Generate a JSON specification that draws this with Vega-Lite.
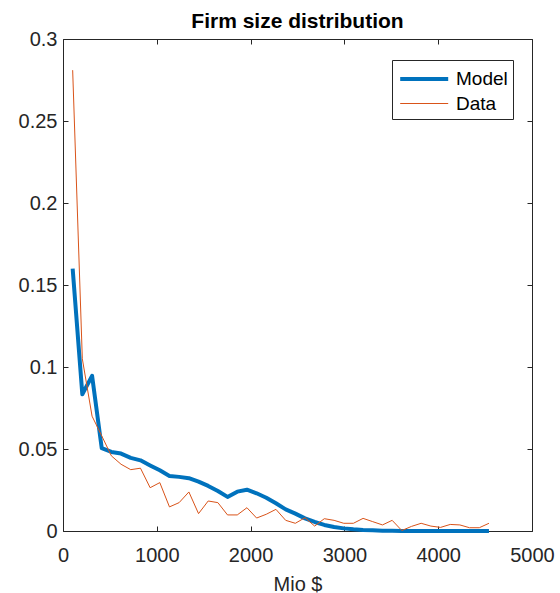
{
  "$schema": "https://vega.github.io/schema/vega-lite/v6.json",
  "autosize": "none",
  "width": 469,
  "height": 492,
  "padding": {"left": 63, "top": 39, "right": 28, "bottom": 62},
  "background": "white",
  "config": {
    "font": "Liberation Sans",
    "view": {"stroke": "#262626", "strokeWidth": 1},
    "axis": {
      "grid": false,
      "domain": false,
      "tickColor": "#262626",
      "tickSize": -5,
      "labelFlush": false,
      "labelOverlap": false,
      "labelFont": "Liberation Sans",
      "labelFontSize": 20,
      "labelColor": "#262626",
      "titleFont": "Liberation Sans",
      "titleFontSize": 20,
      "titleFontWeight": "normal",
      "titleColor": "#262626"
    }
  },
  "title": {
    "text": "Firm size distribution",
    "font": "Liberation Sans",
    "fontSize": 21,
    "fontWeight": "bold",
    "color": "#000000",
    "anchor": "middle",
    "offset": -3
  },
  "data": {
    "values": [
      {"x": 103, "Model": 0.160, "Data": 0.281},
      {"x": 206, "Model": 0.0834, "Data": 0.105},
      {"x": 310, "Model": 0.0946, "Data": 0.070},
      {"x": 413, "Model": 0.0505, "Data": 0.058},
      {"x": 516, "Model": 0.0482, "Data": 0.0458},
      {"x": 619, "Model": 0.0472, "Data": 0.0407},
      {"x": 722, "Model": 0.0446, "Data": 0.0374},
      {"x": 826, "Model": 0.0431, "Data": 0.0383},
      {"x": 929, "Model": 0.040, "Data": 0.0264},
      {"x": 1032, "Model": 0.037, "Data": 0.0295},
      {"x": 1135, "Model": 0.0336, "Data": 0.0147},
      {"x": 1238, "Model": 0.033, "Data": 0.0173},
      {"x": 1342, "Model": 0.0322, "Data": 0.0238},
      {"x": 1445, "Model": 0.0301, "Data": 0.0106},
      {"x": 1548, "Model": 0.0275, "Data": 0.0183},
      {"x": 1651, "Model": 0.0244, "Data": 0.0173},
      {"x": 1754, "Model": 0.0208, "Data": 0.0098},
      {"x": 1858, "Model": 0.024, "Data": 0.0098},
      {"x": 1961, "Model": 0.0252, "Data": 0.0142},
      {"x": 2064, "Model": 0.023, "Data": 0.0079},
      {"x": 2167, "Model": 0.0203, "Data": 0.0102},
      {"x": 2270, "Model": 0.0169, "Data": 0.0132},
      {"x": 2374, "Model": 0.0132, "Data": 0.0065},
      {"x": 2477, "Model": 0.0106, "Data": 0.0047},
      {"x": 2580, "Model": 0.0077, "Data": 0.0081},
      {"x": 2683, "Model": 0.0055, "Data": 0.003},
      {"x": 2786, "Model": 0.0037, "Data": 0.0075},
      {"x": 2890, "Model": 0.0024, "Data": 0.0065},
      {"x": 2993, "Model": 0.0016, "Data": 0.0047},
      {"x": 3096, "Model": 0.001, "Data": 0.0047},
      {"x": 3199, "Model": 0.0006, "Data": 0.0077},
      {"x": 3302, "Model": 0.0004, "Data": 0.0057},
      {"x": 3406, "Model": 0.0002, "Data": 0.0037},
      {"x": 3509, "Model": 0.0001, "Data": 0.0065},
      {"x": 3612, "Model": 0.0, "Data": 0.0003},
      {"x": 3715, "Model": 0.0, "Data": 0.0028},
      {"x": 3818, "Model": 0.0, "Data": 0.0047},
      {"x": 3922, "Model": 0.0, "Data": 0.003},
      {"x": 4025, "Model": 0.0, "Data": 0.0022},
      {"x": 4128, "Model": 0.0, "Data": 0.004},
      {"x": 4231, "Model": 0.0, "Data": 0.0037},
      {"x": 4334, "Model": 0.0, "Data": 0.002},
      {"x": 4438, "Model": 0.0, "Data": 0.002},
      {"x": 4541, "Model": 0.0, "Data": 0.0047}
    ]
  },
  "transform": [{"fold": ["Model", "Data"], "as": ["series", "value"]}],
  "resolve": {"axis": {"x": "independent", "y": "independent"}},
  "layer": [
    {
      "transform": [{"filter": "datum.series === 'Model'"}],
      "mark": {"type": "line", "strokeCap": "butt", "strokeJoin": "round"},
      "encoding": {
        "x": {"field": "x", "type": "quantitative",
          "scale": {"domain": [0, 5000], "nice": false},
          "axis": {"values": [0, 1000, 2000, 3000, 4000, 5000], "format": "d", "title": "Mio $", "labelPadding": 19, "titlePadding": 9, "orient": "bottom"}},
        "y": {"field": "value", "type": "quantitative",
          "scale": {"domain": [0, 0.3], "nice": false},
          "axis": {"values": [0, 0.05, 0.1, 0.15, 0.2, 0.25, 0.3], "format": "~g", "title": null, "labelPadding": 11, "orient": "left"}},
        "color": {"field": "series", "type": "nominal",
          "scale": {"domain": ["Model", "Data"], "range": ["#0072BD", "#D95319"]},
          "legend": {"title": null, "orient": "none", "legendX": 329, "legendY": 21,
            "strokeColor": "#262626", "fillColor": "white", "padding": 5,
            "symbolType": "M-0.9,0H3.1", "symbolSize": 576,
            "labelFontSize": 19, "labelColor": "#000000", "labelFont": "Liberation Sans", "labelOffset": 31, "rowPadding": 2}},
        "strokeWidth": {"field": "series", "type": "ordinal",
          "scale": {"domain": ["Model", "Data"], "range": [4, 1]},
          "legend": {"title": null, "orient": "none", "legendX": 329, "legendY": 21,
            "strokeColor": "#262626", "fillColor": "white", "padding": 5,
            "symbolType": "M-0.9,0H3.1", "symbolSize": 576,
            "labelFontSize": 19, "labelColor": "#000000", "labelFont": "Liberation Sans", "labelOffset": 31, "rowPadding": 2}},
        "order": {"field": "x", "type": "quantitative"}
      }
    },
    {
      "transform": [{"filter": "datum.series === 'Data'"}],
      "mark": {"type": "line", "strokeJoin": "miter"},
      "encoding": {
        "x": {"field": "x", "type": "quantitative",
          "scale": {"domain": [0, 5000], "nice": false},
          "axis": {"values": [0, 1000, 2000, 3000, 4000, 5000], "labels": false, "title": null, "orient": "top"}},
        "y": {"field": "value", "type": "quantitative",
          "scale": {"domain": [0, 0.3], "nice": false},
          "axis": {"values": [0, 0.05, 0.1, 0.15, 0.2, 0.25, 0.3], "labels": false, "title": null, "orient": "right"}},
        "color": {"field": "series", "type": "nominal",
          "scale": {"domain": ["Model", "Data"], "range": ["#0072BD", "#D95319"]}},
        "strokeWidth": {"field": "series", "type": "ordinal",
          "scale": {"domain": ["Model", "Data"], "range": [4, 1]}},
        "order": {"field": "x", "type": "quantitative"}
      }
    }
  ]
}
